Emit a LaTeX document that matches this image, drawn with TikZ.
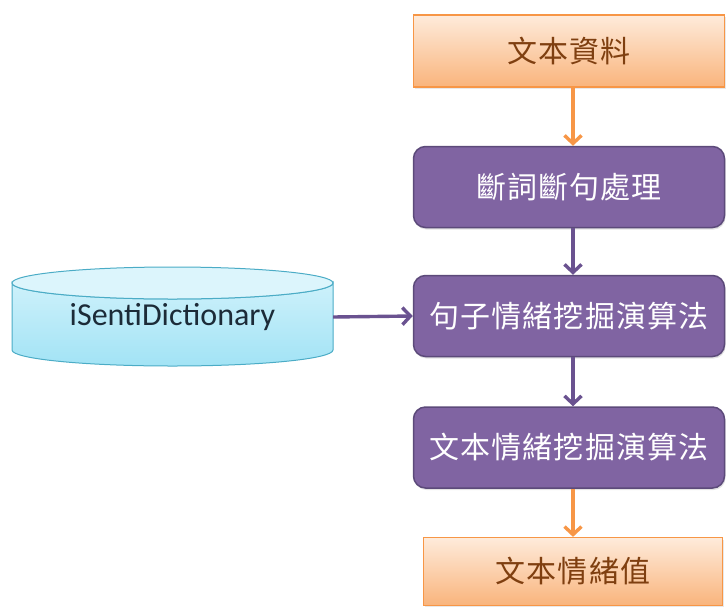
\documentclass[tikz,border=0pt]{standalone}
\usepackage{fontspec}
\setsansfont{Carlito}
\newfontfamily\cjk[LetterSpace=4]{Noto Sans CJK TC}
\usetikzlibrary{arrows.meta,shadows}

\definecolor{orangeline}{HTML}{F79646}
\definecolor{orangetop}{HTML}{FEEBDB}
\definecolor{orangebot}{HTML}{F9B47C}
\definecolor{orangetext}{HTML}{7F3F10}
\definecolor{purplefill}{HTML}{8064A2}
\definecolor{purpleline}{HTML}{5C4A7A}
\definecolor{purplearrow}{HTML}{6A5290}
\definecolor{cyantop}{HTML}{CDF1FB}
\definecolor{cyanbot}{HTML}{A2E3F5}
\definecolor{cyanline}{HTML}{4BACC6}
\definecolor{dicttext}{HTML}{1C2B38}

\begin{document}
\begin{tikzpicture}[x=1pt,y=-1pt,
  cjktext/.style={font=\cjk\fontsize{30}{32}\selectfont},
  orangebox/.style={rectangle, cjktext, draw=orangeline, line width=1.2pt,
    top color=orangetop, bottom color=orangebot, text=orangetext,
    minimum width=311pt, inner sep=0pt,
    drop shadow={opacity=0.18, shadow xshift=1pt, shadow yshift=-2pt}},
  purplebox/.style={rectangle, rounded corners=12pt, cjktext, draw=purpleline,
    line width=1.5pt, fill=purplefill, text=white,
    minimum width=311pt, minimum height=81pt, inner sep=0pt,
    drop shadow={opacity=0.22, shadow xshift=1pt, shadow yshift=-2pt}},
  flowarrow/.style={line width=3.4pt, -{Straight Barb[length=8pt,width=17pt]}},
  orangearrow/.style={flowarrow, draw=orangeline},
  purplearrow/.style={flowarrow, draw=purplearrow}]
\useasboundingbox (0,0) rectangle (726,606);

% main processing chain
\node[orangebox, minimum height=72pt] (src) at (569,51) {文本資料};
\node[purplebox] (seg)  at (569,187) {斷詞斷句處理};
\node[purplebox] (sent) at (569,316) {句子情緒挖掘演算法};
\node[purplebox] (doc)  at (569,447.5) {文本情緒挖掘演算法};
\node[orangebox, minimum width=299pt, minimum height=68pt] (out) at (573,571.5) {文本情緒值};

% dictionary drum
\begin{scope}[drop shadow={opacity=0.15, shadow xshift=1pt, shadow yshift=-2pt}]
\path[draw=cyanline, line width=1pt, top color=cyantop, bottom color=cyanbot]
  (12,283) -- (12,350)
  arc[start angle=180, end angle=0, x radius=160.5, y radius=16]
  -- (333,283)
  arc[start angle=0, end angle=180, x radius=160.5, y radius=16] -- cycle;
\end{scope}
\path[draw=cyanline, line width=1pt, fill=cyantop!70!white]
  (172.5,283) ellipse[x radius=160.5, y radius=16];
\node[font=\sffamily\fontsize{32}{36}\selectfont, text=dicttext,
  minimum width=321pt, inner sep=0pt] (dict) at (172.5,317) {iSentiDictionary};

% connectors
\draw[orangearrow] ([xshift=4pt]src.south) -- ([xshift=4pt]seg.north);
\draw[purplearrow] ([xshift=4pt]seg.south) -- ([xshift=4pt]sent.north);
\draw[purplearrow] ([xshift=4pt]sent.south) -- ([xshift=4pt]doc.north);
\draw[orangearrow] ([xshift=4pt]doc.south) -- (out.north);
\draw[purplearrow] (dict.east) -- (sent.west);
\end{tikzpicture}
\end{document}
